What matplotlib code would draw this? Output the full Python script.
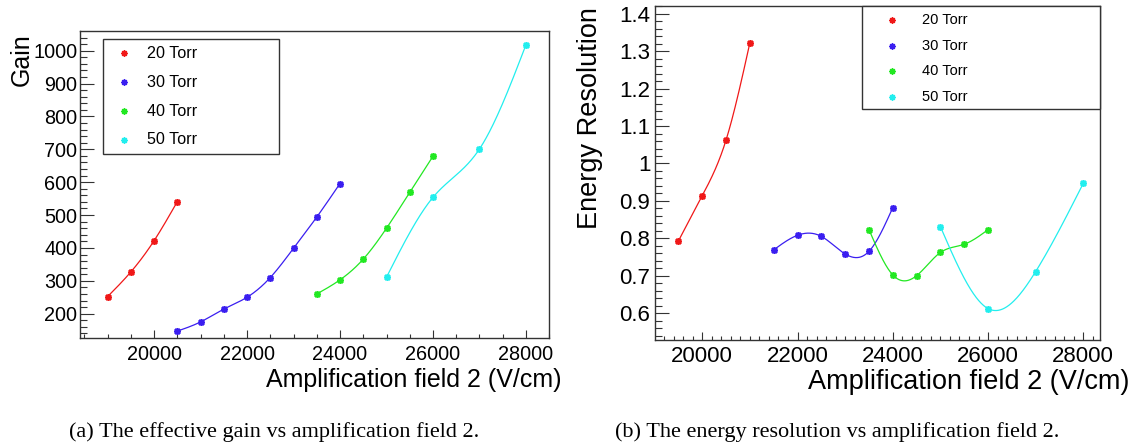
import numpy as np
import matplotlib
matplotlib.use('Agg')
import matplotlib.pyplot as plt
from matplotlib.lines import Line2D
from matplotlib.patches import Rectangle
from matplotlib.ticker import MultipleLocator, FuncFormatter

plt.rcParams['font.family'] = ['Liberation Sans', 'DejaVu Sans']

# ---------------- data ----------------
labels = ['20 Torr', '30 Torr', '40 Torr', '50 Torr']
colors = ['#f01818', '#3a1ef0', '#22e822', '#22eeee']

gain_x_20 = [19000, 19500, 20000, 20500]
gain_y_20 = [252, 327, 422, 541]
gain_x_30 = [20500, 21000, 21500, 22000, 22500, 23000, 23500, 24000]
gain_y_30 = [147, 175, 214, 250, 310, 399, 494, 596]
gain_x_40 = [23500, 24000, 24500, 25000, 25500, 26000]
gain_y_40 = [260, 303, 366, 460, 569, 679]
gain_x_50 = [25000, 26000, 27000, 28000]
gain_y_50 = [311, 554, 701, 1018]

res_x_20 = [19500, 20000, 20500, 21000]
res_y_20 = [0.793, 0.914, 1.063, 1.323]
res_x_30 = [21500, 22000, 22500, 23000, 23500, 24000]
res_y_30 = [0.769, 0.808, 0.805, 0.758, 0.765, 0.882]
res_x_40 = [23500, 24000, 24500, 25000, 25500, 26000]
res_y_40 = [0.823, 0.702, 0.700, 0.762, 0.784, 0.823]
res_x_50 = [25000, 26000, 27000, 28000]
res_y_50 = [0.831, 0.612, 0.711, 0.947]

gain_series = [(gain_x_20, gain_y_20), (gain_x_30, gain_y_30),
               (gain_x_40, gain_y_40), (gain_x_50, gain_y_50)]
res_series = [(res_x_20, res_y_20), (res_x_30, res_y_30),
              (res_x_40, res_y_40), (res_x_50, res_y_50)]

caption_a = '(a) The effective gain vs amplification field 2.'
caption_b = '(b) The energy resolution vs amplification field 2.'
xlabel = 'Amplification field 2 (V/cm)'


def smooth_curve(x, y, n=300):
    """Natural cubic spline through the points (for drawing the smooth line)."""
    x = np.asarray(x, float)
    y = np.asarray(y, float)
    k = len(x)
    h = np.diff(x)
    A = np.zeros((k, k))
    r = np.zeros(k)
    A[0, 0] = 1
    A[-1, -1] = 1
    for i in range(1, k - 1):
        A[i, i - 1] = h[i - 1]
        A[i, i] = 2 * (h[i - 1] + h[i])
        A[i, i + 1] = h[i]
        r[i] = 3 * ((y[i + 1] - y[i]) / h[i] - (y[i] - y[i - 1]) / h[i - 1])
    c = np.linalg.solve(A, r)
    b = (y[1:] - y[:-1]) / h - h * (2 * c[:-1] + c[1:]) / 3
    d = (c[1:] - c[:-1]) / (3 * h)
    xs = np.linspace(x[0], x[-1], n)
    idx = np.clip(np.searchsorted(x, xs) - 1, 0, k - 2)
    dx = xs - x[idx]
    ys = y[idx] + b[idx] * dx + c[idx] * dx ** 2 + d[idx] * dx ** 3
    return xs, ys


W, H = 1137, 445
fig = plt.figure(figsize=(W / 100, H / 100), dpi=100)


def fx(px):
    return px / W


def fy(py):
    return 1 - py / H


FRAME = '#333333'
MARK = (8, 2, 0)


def style_axes(ax, xmaj, xmin, ymaj, ymin, fs, xpad, ypad):
    for s in ax.spines.values():
        s.set_color(FRAME)
        s.set_linewidth(1.0)
    ax.xaxis.set_major_locator(MultipleLocator(xmaj))
    ax.xaxis.set_minor_locator(MultipleLocator(xmin))
    ax.yaxis.set_major_locator(MultipleLocator(ymaj))
    ax.yaxis.set_minor_locator(MultipleLocator(ymin))
    fmt = FuncFormatter(lambda v, p: f'{v:g}')
    ax.xaxis.set_major_formatter(fmt)
    ax.yaxis.set_major_formatter(fmt)
    ax.tick_params(which='both', direction='in', top=False, right=False,
                   color=FRAME, width=0.8)
    ax.tick_params(axis='y', which='major', length=10, labelsize=fs, pad=ypad)
    ax.tick_params(axis='y', which='minor', length=5)
    ax.tick_params(axis='x', which='major', length=6, labelsize=fs, pad=xpad)
    ax.tick_params(axis='x', which='minor', length=3)


def draw_series(ax, series):
    for (x, y), col in zip(series, colors):
        xs, ys = smooth_curve(x, y)
        ax.plot(xs, ys, color=col, lw=0.9, zorder=2)
        ax.plot(x, y, linestyle='none', marker=MARK, ms=5, mew=1.2,
                color=col, zorder=3)


def draw_legend(box, mx, tx, ys, fs):
    x0, y0, x1, y1 = box
    fig.add_artist(Rectangle((fx(x0), fy(y1)), fx(x1) - fx(x0), fy(y0) - fy(y1),
                             transform=fig.transFigure, facecolor='white',
                             edgecolor=FRAME, lw=1.0, zorder=5))
    for lab, col, yy in zip(labels, colors, ys):
        fig.add_artist(Line2D([fx(mx)], [fy(yy)], linestyle='none', marker=MARK,
                              ms=4.5, mew=1.1, color=col,
                              transform=fig.transFigure, zorder=6))
        fig.text(fx(tx), fy(yy), lab, fontsize=fs, ha='left', va='center',
                 color='black', zorder=6)


# ---------------- left: gain ----------------
axL = fig.add_axes([fx(80.3), fy(337.7), fx(549.3) - fx(80.3), fy(31.3) - fy(337.7)])
draw_series(axL, gain_series)
axL.set_xlim(18413, 28502)
axL.set_ylim(127, 1059)
style_axes(axL, 2000, 500, 100, 20, 14.3, 5.5, 2.2)

fig.text(fx(561.7), fy(386.7), xlabel, fontsize=18, ha='right', va='baseline')
fig.text(fx(28.5), fy(33.3), 'Gain', fontsize=18, rotation=90,
         rotation_mode='anchor', ha='right', va='baseline')
draw_legend((103.3, 39.3, 278.7, 154.0), 124.3, 146.7,
            [53.3, 82.3, 111.0, 140.0], 11.6)

# ---------------- right: energy resolution ----------------
axR = fig.add_axes([fx(654.7), fy(340), fx(1100.3) - fx(654.7), fy(6) - fy(340)])
draw_series(axR, res_series)
axR.set_xlim(19001, 28357)
axR.set_ylim(0.528, 1.421)
style_axes(axR, 2000, 200, 0.1, 0.02, 16, 4.0, 3.2)

fig.text(fx(1129.3), fy(389.3), xlabel, fontsize=19.5, ha='right', va='baseline')
fig.text(fx(596.6), fy(7.3), 'Energy Resolution', fontsize=19.5, rotation=90,
         rotation_mode='anchor', ha='right', va='baseline')
draw_legend((862.3, 6.0, 1100.3, 109.3), 891.7, 921.7,
            [20.3, 45.7, 71.3, 97.3], 10.5)

# ---------------- captions ----------------
fig.text(fx(68.9), fy(432), caption_a, fontsize=16, family='Liberation Serif',
         ha='left', va='center')
fig.text(fx(615), fy(432), caption_b, fontsize=16, family='Liberation Serif',
         ha='left', va='center')

fig.savefig('out.png', dpi=100, facecolor='white')
